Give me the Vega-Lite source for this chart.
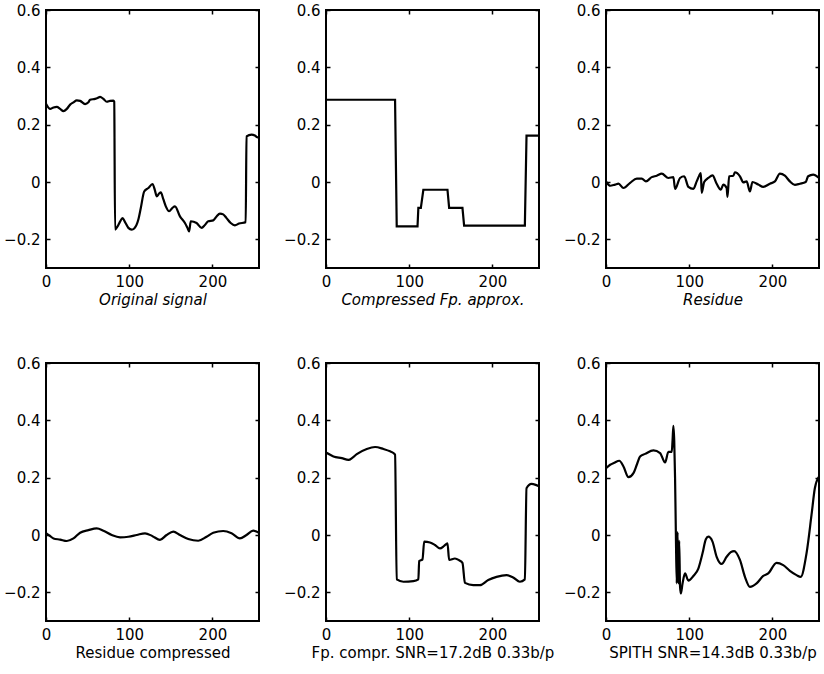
{
  "$schema": "https://vega.github.io/schema/vega-lite/v6.json",
  "background": "white",
  "padding": {"left": 2, "top": 2, "right": 0, "bottom": 0},
  "columns": 3,
  "spacing": {"row": 95, "column": 67},
  "bounds": "flush",
  "datasets": {
    "p1": [{"x":0,"y":0.273},{"x":5,"y":0.255},{"x":9,"y":0.26},{"x":13,"y":0.262},{"x":17,"y":0.255},{"x":21,"y":0.247},{"x":25,"y":0.255},{"x":29,"y":0.27},{"x":33,"y":0.278},{"x":37,"y":0.285},{"x":41,"y":0.283},{"x":47,"y":0.272},{"x":51,"y":0.278},{"x":53,"y":0.287},{"x":59,"y":0.29},{"x":62,"y":0.293},{"x":65,"y":0.297},{"x":69,"y":0.29},{"x":73,"y":0.28},{"x":77,"y":0.283},{"x":81,"y":0.284},{"x":82,"y":0.28},{"x":83,"y":-0.166},{"x":86,"y":-0.155},{"x":89,"y":-0.138},{"x":92,"y":-0.126},{"x":95,"y":-0.14},{"x":99,"y":-0.16},{"x":103,"y":-0.166},{"x":106,"y":-0.162},{"x":111,"y":-0.131},{"x":114,"y":-0.09},{"x":118,"y":-0.033},{"x":123,"y":-0.021},{"x":128,"y":-0.007},{"x":131,"y":-0.03},{"x":133,"y":-0.05},{"x":136,"y":-0.04},{"x":138,"y":-0.036},{"x":141,"y":-0.06},{"x":144,"y":-0.085},{"x":148,"y":-0.102},{"x":152,"y":-0.09},{"x":155,"y":-0.085},{"x":161,"y":-0.12},{"x":167,"y":-0.143},{"x":170,"y":-0.16},{"x":172,"y":-0.172},{"x":174,"y":-0.137},{"x":181,"y":-0.143},{"x":187,"y":-0.16},{"x":191,"y":-0.15},{"x":195,"y":-0.137},{"x":201,"y":-0.134},{"x":205,"y":-0.12},{"x":209,"y":-0.11},{"x":213,"y":-0.113},{"x":217,"y":-0.126},{"x":222,"y":-0.143},{"x":227,"y":-0.151},{"x":232,"y":-0.145},{"x":240,"y":-0.14},{"x":241,"y":0.159},{"x":247,"y":0.165},{"x":251,"y":0.162},{"x":254,"y":0.156},{"x":256,"y":0.155}],
    "p2": [{"x":0,"y":0.287},{"x":83,"y":0.287},{"x":85,"y":-0.155},{"x":110,"y":-0.155},{"x":111,"y":-0.09},{"x":114,"y":-0.09},{"x":117,"y":-0.027},{"x":146,"y":-0.027},{"x":148,"y":-0.09},{"x":164,"y":-0.09},{"x":166,"y":-0.152},{"x":239,"y":-0.152},{"x":241,"y":0.162},{"x":256,"y":0.162}],
    "p3": [{"x":0,"y":0.002},{"x":5,"y":-0.013},{"x":11,"y":-0.009},{"x":15,"y":-0.006},{"x":21,"y":-0.021},{"x":29,"y":-0.003},{"x":37,"y":0.012},{"x":43,"y":0.012},{"x":48,"y":0.002},{"x":55,"y":0.017},{"x":61,"y":0.022},{"x":67,"y":0.029},{"x":75,"y":0.014},{"x":81,"y":0.017},{"x":83,"y":-0.024},{"x":89,"y":0.014},{"x":94,"y":0.02},{"x":99,"y":-0.017},{"x":105,"y":-0.024},{"x":109,"y":0.002},{"x":112,"y":0.022},{"x":114,"y":0.031},{"x":115,"y":-0.038},{"x":118,"y":0},{"x":123,"y":0.014},{"x":128,"y":0.023},{"x":133,"y":-0.006},{"x":138,"y":-0.027},{"x":141,"y":-0.009},{"x":145,"y":-0.021},{"x":146,"y":-0.052},{"x":148,"y":0.02},{"x":153,"y":0.022},{"x":155,"y":0.034},{"x":161,"y":0.02},{"x":165,"y":-0.001},{"x":169,"y":0.002},{"x":173,"y":-0.033},{"x":176,"y":0},{"x":183,"y":-0.009},{"x":189,"y":-0.017},{"x":197,"y":-0.006},{"x":203,"y":0.002},{"x":209,"y":0.029},{"x":215,"y":0.022},{"x":221,"y":0.002},{"x":227,"y":-0.01},{"x":233,"y":-0.006},{"x":240,"y":0},{"x":243,"y":0.02},{"x":249,"y":0.026},{"x":256,"y":0.014}],
    "p4": [{"x":0,"y":0.006},{"x":5,"y":-0.004},{"x":9,"y":-0.012},{"x":17,"y":-0.016},{"x":25,"y":-0.021},{"x":33,"y":-0.012},{"x":41,"y":0.008},{"x":51,"y":0.017},{"x":61,"y":0.023},{"x":69,"y":0.015},{"x":79,"y":0},{"x":89,"y":-0.008},{"x":99,"y":-0.006},{"x":109,"y":0},{"x":119,"y":0.006},{"x":128,"y":-0.004},{"x":137,"y":-0.017},{"x":145,"y":0},{"x":153,"y":0.012},{"x":161,"y":0},{"x":171,"y":-0.014},{"x":183,"y":-0.02},{"x":193,"y":-0.006},{"x":201,"y":0.008},{"x":213,"y":0.014},{"x":223,"y":0.006},{"x":233,"y":-0.012},{"x":241,"y":0},{"x":249,"y":0.015},{"x":256,"y":0.008}],
    "p5": [{"x":0,"y":0.288},{"x":5,"y":0.28},{"x":9,"y":0.274},{"x":19,"y":0.268},{"x":27,"y":0.262},{"x":32,"y":0.27},{"x":37,"y":0.282},{"x":49,"y":0.3},{"x":59,"y":0.307},{"x":69,"y":0.3},{"x":77,"y":0.292},{"x":81,"y":0.286},{"x":83,"y":0.28},{"x":85,"y":-0.155},{"x":93,"y":-0.163},{"x":105,"y":-0.161},{"x":111,"y":-0.155},{"x":112,"y":-0.091},{"x":116,"y":-0.085},{"x":118,"y":-0.023},{"x":125,"y":-0.026},{"x":131,"y":-0.035},{"x":137,"y":-0.047},{"x":142,"y":-0.038},{"x":146,"y":-0.029},{"x":148,"y":-0.087},{"x":155,"y":-0.082},{"x":160,"y":-0.088},{"x":164,"y":-0.097},{"x":167,"y":-0.167},{"x":177,"y":-0.175},{"x":185,"y":-0.175},{"x":195,"y":-0.157},{"x":205,"y":-0.146},{"x":217,"y":-0.14},{"x":225,"y":-0.148},{"x":233,"y":-0.163},{"x":239,"y":-0.155},{"x":241,"y":0.163},{"x":247,"y":0.178},{"x":252,"y":0.175},{"x":256,"y":0.17}],
    "p6": [{"x":0,"y":0.233},{"x":5,"y":0.245},{"x":10,"y":0.252},{"x":16,"y":0.259},{"x":21,"y":0.239},{"x":27,"y":0.202},{"x":33,"y":0.216},{"x":37,"y":0.245},{"x":41,"y":0.274},{"x":47,"y":0.283},{"x":57,"y":0.295},{"x":65,"y":0.286},{"x":71,"y":0.253},{"x":75,"y":0.29},{"x":79,"y":0.29},{"x":80,"y":0.33},{"x":81,"y":0.381},{"x":82,"y":0.33},{"x":83,"y":0.2},{"x":84,"y":0.0},{"x":85,"y":-0.169},{"x":86,"y":0.01},{"x":87,"y":-0.169},{"x":88,"y":-0.02},{"x":89,"y":-0.181},{"x":90,"y":-0.204},{"x":92,"y":-0.169},{"x":95,"y":-0.134},{"x":99,"y":-0.159},{"x":105,"y":-0.143},{"x":111,"y":-0.117},{"x":116,"y":-0.064},{"x":120,"y":-0.015},{"x":123,"y":-0.006},{"x":128,"y":-0.023},{"x":133,"y":-0.076},{"x":139,"y":-0.101},{"x":145,"y":-0.076},{"x":150,"y":-0.06},{"x":154,"y":-0.056},{"x":161,"y":-0.087},{"x":167,"y":-0.146},{"x":173,"y":-0.181},{"x":181,"y":-0.169},{"x":189,"y":-0.143},{"x":195,"y":-0.134},{"x":205,"y":-0.097},{"x":213,"y":-0.105},{"x":221,"y":-0.125},{"x":229,"y":-0.14},{"x":234,"y":-0.146},{"x":241,"y":-0.064},{"x":247,"y":0.07},{"x":251,"y":0.163},{"x":256,"y":0.204}]
  },
  "concat": [
    {"width":213,"height":258,"data":{"name":"p1"},"layer":[
      {"mark":{"type":"line","color":"black","strokeWidth":2.2,"interpolate":"monotone","clip":true},"encoding":{
        "x":{"field":"x","type":"quantitative","scale":{"domain":[0,256],"nice":false,"zero":false},"axis":{"orient":"bottom","ticks":false,"values":[0,100,200],"title":"Original signal","titleFontStyle":"italic"}},
        "y":{"field":"y","type":"quantitative","scale":{"domain":[-0.3,0.6],"nice":false,"zero":false},"axis":{"orient":"left","ticks":false,"values":[-0.2,0,0.2,0.4,0.6],"format":"~g","title":null}}}},
      {"mark":{"type":"line","opacity":0},"encoding":{
        "x":{"field":"x","type":"quantitative","axis":{"orient":"top","offset":-4,"values":[0,100,200],"labels":false,"title":null}},
        "y":{"field":"y","type":"quantitative","axis":{"orient":"right","offset":-4,"values":[-0.2,0,0.2,0.4,0.6],"labels":false,"title":null}}}},
      {"mark":{"type":"line","opacity":0},"encoding":{
        "x":{"field":"x","type":"quantitative","axis":{"orient":"bottom","offset":-4,"values":[0,100,200],"labels":false,"title":null}},
        "y":{"field":"y","type":"quantitative","axis":{"orient":"left","offset":-4,"values":[-0.2,0,0.2,0.4,0.6],"labels":false,"title":null}}}}
    ],"resolve":{"axis":{"x":"independent","y":"independent"}}},
    {"width":213,"height":258,"data":{"name":"p2"},"layer":[
      {"mark":{"type":"line","color":"black","strokeWidth":2.2,"clip":true},"encoding":{
        "x":{"field":"x","type":"quantitative","scale":{"domain":[0,256],"nice":false,"zero":false},"axis":{"orient":"bottom","ticks":false,"values":[0,100,200],"title":"Compressed Fp. approx.","titleFontStyle":"italic"}},
        "y":{"field":"y","type":"quantitative","scale":{"domain":[-0.3,0.6],"nice":false,"zero":false},"axis":{"orient":"left","ticks":false,"values":[-0.2,0,0.2,0.4,0.6],"format":"~g","title":null}}}},
      {"mark":{"type":"line","opacity":0},"encoding":{
        "x":{"field":"x","type":"quantitative","axis":{"orient":"top","offset":-4,"values":[0,100,200],"labels":false,"title":null}},
        "y":{"field":"y","type":"quantitative","axis":{"orient":"right","offset":-4,"values":[-0.2,0,0.2,0.4,0.6],"labels":false,"title":null}}}},
      {"mark":{"type":"line","opacity":0},"encoding":{
        "x":{"field":"x","type":"quantitative","axis":{"orient":"bottom","offset":-4,"values":[0,100,200],"labels":false,"title":null}},
        "y":{"field":"y","type":"quantitative","axis":{"orient":"left","offset":-4,"values":[-0.2,0,0.2,0.4,0.6],"labels":false,"title":null}}}}
    ],"resolve":{"axis":{"x":"independent","y":"independent"}}},
    {"width":213,"height":258,"data":{"name":"p3"},"layer":[
      {"mark":{"type":"line","color":"black","strokeWidth":2.2,"interpolate":"monotone","clip":true},"encoding":{
        "x":{"field":"x","type":"quantitative","scale":{"domain":[0,256],"nice":false,"zero":false},"axis":{"orient":"bottom","ticks":false,"values":[0,100,200],"title":"Residue","titleFontStyle":"italic"}},
        "y":{"field":"y","type":"quantitative","scale":{"domain":[-0.3,0.6],"nice":false,"zero":false},"axis":{"orient":"left","ticks":false,"values":[-0.2,0,0.2,0.4,0.6],"format":"~g","title":null}}}},
      {"mark":{"type":"line","opacity":0},"encoding":{
        "x":{"field":"x","type":"quantitative","axis":{"orient":"top","offset":-4,"values":[0,100,200],"labels":false,"title":null}},
        "y":{"field":"y","type":"quantitative","axis":{"orient":"right","offset":-4,"values":[-0.2,0,0.2,0.4,0.6],"labels":false,"title":null}}}},
      {"mark":{"type":"line","opacity":0},"encoding":{
        "x":{"field":"x","type":"quantitative","axis":{"orient":"bottom","offset":-4,"values":[0,100,200],"labels":false,"title":null}},
        "y":{"field":"y","type":"quantitative","axis":{"orient":"left","offset":-4,"values":[-0.2,0,0.2,0.4,0.6],"labels":false,"title":null}}}}
    ],"resolve":{"axis":{"x":"independent","y":"independent"}}},
    {"width":213,"height":258,"data":{"name":"p4"},"layer":[
      {"mark":{"type":"line","color":"black","strokeWidth":2.2,"interpolate":"monotone","clip":true},"encoding":{
        "x":{"field":"x","type":"quantitative","scale":{"domain":[0,256],"nice":false,"zero":false},"axis":{"orient":"bottom","ticks":false,"values":[0,100,200],"title":"Residue compressed"}},
        "y":{"field":"y","type":"quantitative","scale":{"domain":[-0.3,0.6],"nice":false,"zero":false},"axis":{"orient":"left","ticks":false,"values":[-0.2,0,0.2,0.4,0.6],"format":"~g","title":null}}}},
      {"mark":{"type":"line","opacity":0},"encoding":{
        "x":{"field":"x","type":"quantitative","axis":{"orient":"top","offset":-4,"values":[0,100,200],"labels":false,"title":null}},
        "y":{"field":"y","type":"quantitative","axis":{"orient":"right","offset":-4,"values":[-0.2,0,0.2,0.4,0.6],"labels":false,"title":null}}}},
      {"mark":{"type":"line","opacity":0},"encoding":{
        "x":{"field":"x","type":"quantitative","axis":{"orient":"bottom","offset":-4,"values":[0,100,200],"labels":false,"title":null}},
        "y":{"field":"y","type":"quantitative","axis":{"orient":"left","offset":-4,"values":[-0.2,0,0.2,0.4,0.6],"labels":false,"title":null}}}}
    ],"resolve":{"axis":{"x":"independent","y":"independent"}}},
    {"width":213,"height":258,"data":{"name":"p5"},"layer":[
      {"mark":{"type":"line","color":"black","strokeWidth":2.2,"interpolate":"monotone","clip":true},"encoding":{
        "x":{"field":"x","type":"quantitative","scale":{"domain":[0,256],"nice":false,"zero":false},"axis":{"orient":"bottom","ticks":false,"values":[0,100,200],"title":"Fp. compr. SNR=17.2dB 0.33b/p"}},
        "y":{"field":"y","type":"quantitative","scale":{"domain":[-0.3,0.6],"nice":false,"zero":false},"axis":{"orient":"left","ticks":false,"values":[-0.2,0,0.2,0.4,0.6],"format":"~g","title":null}}}},
      {"mark":{"type":"line","opacity":0},"encoding":{
        "x":{"field":"x","type":"quantitative","axis":{"orient":"top","offset":-4,"values":[0,100,200],"labels":false,"title":null}},
        "y":{"field":"y","type":"quantitative","axis":{"orient":"right","offset":-4,"values":[-0.2,0,0.2,0.4,0.6],"labels":false,"title":null}}}},
      {"mark":{"type":"line","opacity":0},"encoding":{
        "x":{"field":"x","type":"quantitative","axis":{"orient":"bottom","offset":-4,"values":[0,100,200],"labels":false,"title":null}},
        "y":{"field":"y","type":"quantitative","axis":{"orient":"left","offset":-4,"values":[-0.2,0,0.2,0.4,0.6],"labels":false,"title":null}}}}
    ],"resolve":{"axis":{"x":"independent","y":"independent"}}},
    {"width":213,"height":258,"data":{"name":"p6"},"layer":[
      {"mark":{"type":"line","color":"black","strokeWidth":2.2,"interpolate":"monotone","clip":true},"encoding":{
        "x":{"field":"x","type":"quantitative","scale":{"domain":[0,256],"nice":false,"zero":false},"axis":{"orient":"bottom","ticks":false,"values":[0,100,200],"title":"SPITH SNR=14.3dB 0.33b/p"}},
        "y":{"field":"y","type":"quantitative","scale":{"domain":[-0.3,0.6],"nice":false,"zero":false},"axis":{"orient":"left","ticks":false,"values":[-0.2,0,0.2,0.4,0.6],"format":"~g","title":null}}}},
      {"mark":{"type":"line","opacity":0},"encoding":{
        "x":{"field":"x","type":"quantitative","axis":{"orient":"top","offset":-4,"values":[0,100,200],"labels":false,"title":null}},
        "y":{"field":"y","type":"quantitative","axis":{"orient":"right","offset":-4,"values":[-0.2,0,0.2,0.4,0.6],"labels":false,"title":null}}}},
      {"mark":{"type":"line","opacity":0},"encoding":{
        "x":{"field":"x","type":"quantitative","axis":{"orient":"bottom","offset":-4,"values":[0,100,200],"labels":false,"title":null}},
        "y":{"field":"y","type":"quantitative","axis":{"orient":"left","offset":-4,"values":[-0.2,0,0.2,0.4,0.6],"labels":false,"title":null}}}}
    ],"resolve":{"axis":{"x":"independent","y":"independent"}}}
  ],
  "config": {
    "view": {"stroke": "black", "strokeWidth": 2},
    "axis": {
      "domain": false, "grid": false, "tickSize": 4, "tickColor": "black", "tickWidth": 1.5,
      "labelFont": "DejaVu Sans", "labelFontSize": 15, "labelColor": "black", "labelOverlap": false, "labelFlush": false,
      "titleFont": "DejaVu Sans", "titleFontSize": 15, "titleColor": "black", "titleFontWeight": "normal", "titlePadding": 3
    },
    "axisX": {"labelPadding": 6},
    "axisY": {"labelPadding": 6}
  }
}
